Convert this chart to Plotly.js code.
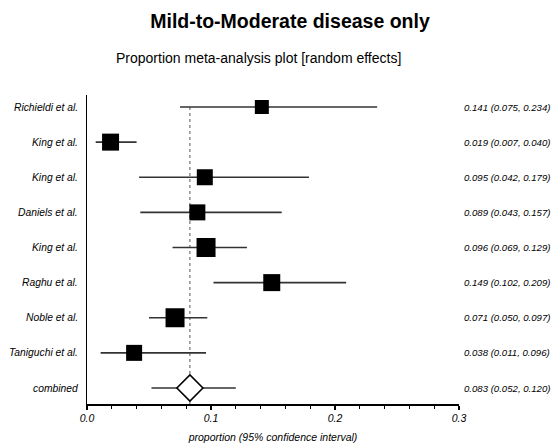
<!DOCTYPE html>
<html>
<head>
<meta charset="utf-8">
<script src="https://cdn.plot.ly/plotly-3.0.1.min.js"></script>
<style>html,body{margin:0;padding:0;background:#fff;}#chart{width:553px;height:444px;}</style>
</head>
<body>
<div id="chart"></div>
<script>
var studies = ["Richieldi et al.","King et al.","King et al.","Daniels et al.","King et al.","Raghu et al.","Noble et al.","Taniguchi et al."];
var estimates = [0.141,0.019,0.095,0.089,0.096,0.149,0.071,0.038];
var lower = [0.075,0.007,0.042,0.043,0.069,0.102,0.050,0.011];
var upper = [0.234,0.040,0.179,0.157,0.129,0.209,0.097,0.096];
var weights = [14,17,16,16,19,17,19,16];
var combinedLabel = "combined";
var combinedEst = 0.083;
var combinedLo = 0.052;
var combinedHi = 0.120;
var xTicks = [0, 0.1, 0.2, 0.3];
var xTickText = ["0.0","0.1","0.2","0.3"];

var rows = studies.map(function(_, i){ return i; });
var combRow = studies.length;
var FONT = "Liberation Sans, Arial, sans-serif";

var traces = [
  {
    type: "scatter", mode: "markers",
    x: estimates, y: rows,
    marker: {symbol: "square", size: weights, color: "#000", opacity: 1, line: {width: 0}},
    error_x: {type: "data", symmetric: false,
      array: estimates.map(function(e,i){ return upper[i]-e; }),
      arrayminus: estimates.map(function(e,i){ return e-lower[i]; }),
      width: 0, thickness: 1.6, color: "#333"},
    hoverinfo: "skip", showlegend: false
  },
  {
    type: "scatter", mode: "markers",
    x: [combinedEst], y: [combRow],
    marker: {symbol: "diamond", size: 20, color: "#fff", opacity: 1, line: {width: 1.6, color: "#000"}},
    error_x: {type: "data", symmetric: false,
      array: [combinedHi - combinedEst], arrayminus: [combinedEst - combinedLo],
      width: 0, thickness: 1.6, color: "#333"},
    hoverinfo: "skip", showlegend: false
  }
];

function f3(v){ return v.toFixed(3); }

var annotations = [];
var allLabels = studies.concat([combinedLabel]);
var allEst = estimates.concat([combinedEst]);
var allLo = lower.concat([combinedLo]);
var allHi = upper.concat([combinedHi]);
allLabels.forEach(function(lab, i){
  annotations.push({xref: "paper", yref: "y", x: 0, y: i, xanchor: "right", yanchor: "middle",
    xshift: -7, text: lab, showarrow: false,
    font: {family: FONT, size: 10.3, color: "#000", style: "italic"}});
  annotations.push({xref: "paper", yref: "y", x: 1, y: i, xanchor: "left", yanchor: "middle",
    xshift: 3, text: f3(allEst[i]) + " (" + f3(allLo[i]) + ", " + f3(allHi[i]) + ")", showarrow: false,
    font: {family: FONT, size: 9.6, color: "#000", style: "italic"}});
});
annotations.push({xref: "paper", yref: "paper", x: (258-87)/372, y: 1, yshift: 37, xanchor: "center", yanchor: "middle",
  text: "Proportion meta-analysis plot [random effects]", showarrow: false,
  font: {family: FONT, size: 14, color: "#000"}});

var layout = {
  width: 553, height: 444,
  margin: {l: 87, r: 94, t: 95, b: 40},
  paper_bgcolor: "#fff", plot_bgcolor: "#fff",
  title: {text: "<b>Mild-to-Moderate disease only</b>", x: 290/553, xanchor: "center",
    y: 1 - 21/444, yanchor: "middle", yref: "container",
    font: {family: FONT, size: 19.5, color: "#000"}},
  xaxis: {range: [0, 0.3], tickvals: xTicks, ticktext: xTickText,
    showgrid: false, zeroline: false, showline: true, linecolor: "#000", linewidth: 1.5,
    ticks: "outside", ticklen: 4, tickwidth: 1.2, tickcolor: "#000",
    minor: {dtick: 0.02, tick0: 0, ticks: "outside", ticklen: 3, tickwidth: 1, tickcolor: "#000", showgrid: false},
    tickfont: {family: FONT, size: 10.5, color: "#000", style: "italic"},
    title: {text: "proportion (95% confidence interval)", standoff: 10,
      font: {family: FONT, size: 10.5, color: "#000", style: "italic"}},
    fixedrange: true},
  yaxis: {range: [8 + 16/35.125, -12/35.125], showgrid: false, zeroline: false,
    showline: true, linecolor: "#000", linewidth: 1.5, showticklabels: false, ticks: "",
    fixedrange: true},
  shapes: [{type: "line", xref: "x", yref: "paper", x0: combinedEst, x1: combinedEst,
    y0: 0, y1: 1 - 12/309, line: {color: "#555", width: 1, dash: "dot"}, layer: "below"}],
  annotations: annotations
};

Plotly.newPlot("chart", traces, layout, {staticPlot: true, displayModeBar: false});
</script>
</body>
</html>
